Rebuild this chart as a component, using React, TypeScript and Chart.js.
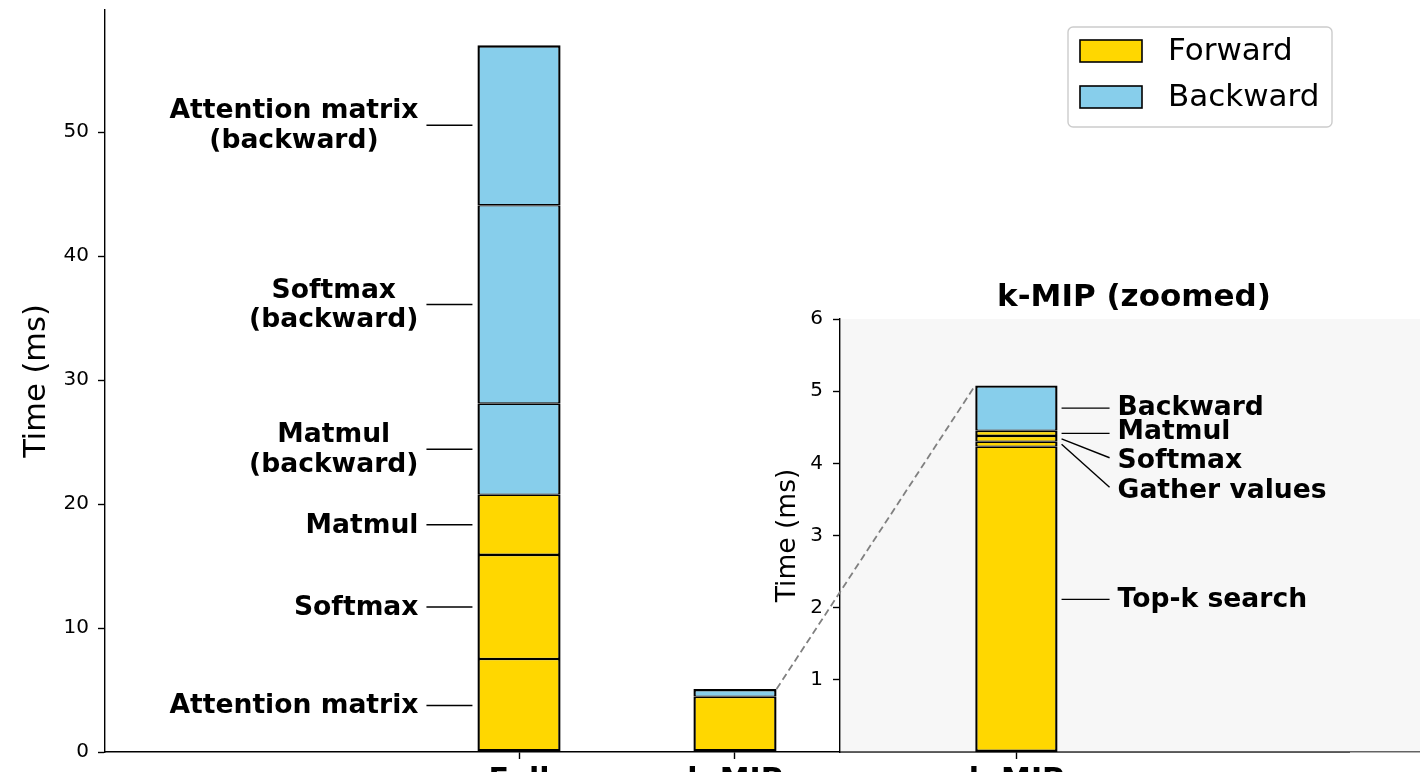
import React, { useEffect, useRef } from 'react';
import { Chart, registerables } from 'chart.js';

Chart.register(...registerables);

// ---------------- data ----------------
const CATEGORIES = ['Full', 'k-MIP'];
const PHASES = ['Forward', 'Backward'];

const FULL_LABELS = [
  'Attention matrix',
  'Softmax',
  'Matmul',
  'Matmul\n(backward)',
  'Softmax\n(backward)',
  'Attention matrix\n(backward)',
];
const FULL_VALUES = [7.5, 8.4, 4.85, 7.35, 16.0, 12.9];
const FULL_PHASES = ['Forward', 'Forward', 'Forward', 'Backward', 'Backward', 'Backward'];

const KMIP_LABELS = ['Top-k search', 'Gather values', 'Softmax', 'Matmul', 'Backward'];
const KMIP_VALUES = [4.23, 0.07, 0.08, 0.07, 0.63];
const KMIP_PHASES = ['Forward', 'Forward', 'Forward', 'Forward', 'Backward'];
// y (ms) where each inset annotation text sits
const KMIP_LABEL_Y = [2.12, 3.64, 4.05, 4.45, 4.78];

const MAIN_Y_TICKS = [0, 10, 20, 30, 40, 50];
const INSET_Y_TICKS = [1, 2, 3, 4, 5, 6];
const INSET_CATEGORIES = ['k-MIP'];
const INSET_TITLE = 'k-MIP (zoomed)';
const Y_LABEL = 'Time (ms)';

// ---------------- style / layout ----------------
const PHASE_COLORS: Record<string, string> = { Forward: '#FFD700', Backward: '#87CEEB' };
const FONT = '"DejaVu Sans", sans-serif';
const W = 1420;
const H = 772;
const MAIN_X_MIN = -1.917;
const MAIN_X_MAX = 3.843;
const MAIN_Y_MAX = 59.85;
const BAR_WIDTH = 0.385;
const INSET_LEFT = 740;
const INSET_TOP = 270;
const INSET_W = 688;
const INSET_H = 502;
const INSET_X_MIN = -0.6;
const INSET_X_MAX = 1.4;
const INSET_BAR_WIDTH = 0.28;
const INSET_Y_MAX = 6;
const LABEL_FONT = `bold 26.6px ${FONT}`;

const sum = (a: number[]) => a.reduce((s, v) => s + v, 0);
const edge = (i: number, n: number) => ({
  left: 2.4,
  right: 2.4,
  top: i === n - 1 ? 2.4 : 1.3,
  bottom: i === 0 ? 2.4 : 1.3,
});

const axisCommon = {
  offset: false,
  grid: {
    display: true,
    offset: false,
    drawOnChartArea: false,
    drawTicks: true,
    tickLength: 7,
    tickColor: '#000',
    tickWidth: 1.4,
  },
  border: { display: true, color: '#000', width: 1.4 },
};

function drawBlock(ctx: CanvasRenderingContext2D, text: string, right: number, y: number, lh: number) {
  const lines = text.split('\n');
  const bw = Math.max(...lines.map((l) => ctx.measureText(l).width));
  const cx = right - bw / 2;
  const y0 = y - ((lines.length - 1) * lh) / 2;
  ctx.textAlign = 'center';
  lines.forEach((l, k) => ctx.fillText(l, cx, y0 + k * lh));
}

function mainConfig(): any {
  const kmipTotals = PHASES.map((p) => sum(KMIP_VALUES.filter((_, j) => KMIP_PHASES[j] === p)));
  const datasets = [
    ...FULL_VALUES.map((v, i) => ({
      label: FULL_LABELS[i],
      data: [{ x: 0, y: v }],
      backgroundColor: PHASE_COLORS[FULL_PHASES[i]],
      borderColor: '#000',
      borderWidth: edge(i, FULL_VALUES.length),
      borderSkipped: false,
      stack: 's',
      barPercentage: BAR_WIDTH,
      categoryPercentage: 1,
    })),
    ...PHASES.map((p, i) => ({
      label: 'k-MIP ' + p,
      data: [{ x: 1, y: kmipTotals[i] }],
      backgroundColor: PHASE_COLORS[p],
      borderColor: '#000',
      borderWidth: edge(i, PHASES.length),
      borderSkipped: false,
      stack: 's',
      barPercentage: BAR_WIDTH,
      categoryPercentage: 1,
    })),
  ];

  const decor = {
    id: 'mainDecor',
    afterDraw(chart: any) {
      const ctx = chart.ctx as CanvasRenderingContext2D;
      const xs = chart.scales.x;
      const ys = chart.scales.y;
      const ca = chart.chartArea;
      ctx.save();
      // y label
      ctx.fillStyle = '#000';
      ctx.font = `30.5px ${FONT}`;
      ctx.textAlign = 'center';
      ctx.textBaseline = 'middle';
      ctx.translate(37, (ca.top + ca.bottom) / 2);
      ctx.rotate(-Math.PI / 2);
      ctx.fillText(Y_LABEL, 0, 0);
      ctx.restore();

      // annotations for Full bar
      ctx.save();
      const barLeft = xs.getPixelForValue(0 - BAR_WIDTH / 2);
      let cum = 0;
      ctx.font = LABEL_FONT;
      ctx.textBaseline = 'middle';
      ctx.fillStyle = '#000';
      ctx.strokeStyle = '#000';
      ctx.lineWidth = 1.4;
      FULL_VALUES.forEach((v, i) => {
        const y = ys.getPixelForValue(cum + v / 2);
        cum += v;
        ctx.beginPath();
        ctx.moveTo(barLeft - 51, y);
        ctx.lineTo(barLeft - 5, y);
        ctx.stroke();
        drawBlock(ctx, FULL_LABELS[i], barLeft - 59, y + 1, 29.5);
      });
      ctx.restore();

      // legend
      ctx.save();
      const bx = ca.right - 281;
      const by = ca.top + 17;
      const bw = 264;
      const bh = 100;
      const r = 5;
      ctx.beginPath();
      ctx.moveTo(bx + r, by);
      ctx.lineTo(bx + bw - r, by);
      ctx.arcTo(bx + bw, by, bx + bw, by + r, r);
      ctx.lineTo(bx + bw, by + bh - r);
      ctx.arcTo(bx + bw, by + bh, bx + bw - r, by + bh, r);
      ctx.lineTo(bx + r, by + bh);
      ctx.arcTo(bx, by + bh, bx, by + bh - r, r);
      ctx.lineTo(bx, by + r);
      ctx.arcTo(bx, by, bx + r, by, r);
      ctx.closePath();
      ctx.fillStyle = 'rgba(255,255,255,0.8)';
      ctx.fill();
      ctx.strokeStyle = '#cccccc';
      ctx.lineWidth = 1.4;
      ctx.stroke();
      ctx.font = `31px ${FONT}`;
      ctx.textAlign = 'left';
      ctx.textBaseline = 'middle';
      PHASES.forEach((p, i) => {
        const cy = by + 24 + i * 46;
        ctx.fillStyle = PHASE_COLORS[p];
        ctx.fillRect(bx + 12, cy - 11, 62, 22);
        ctx.strokeStyle = '#000';
        ctx.lineWidth = 1.6;
        ctx.strokeRect(bx + 12, cy - 11, 62, 22);
        ctx.fillStyle = '#000';
        ctx.fillText(p, bx + 100, cy + 1);
      });
      ctx.restore();
    },
  };

  return {
    type: 'bar',
    data: { datasets },
    options: {
      responsive: false,
      animation: false,
      events: [],
      layout: { padding: { top: 10, right: 71, bottom: 0, left: 0 } },
      plugins: { legend: { display: false }, tooltip: { enabled: false }, title: { display: false } },
      scales: {
        x: {
          ...axisCommon,
          type: 'linear',
          stacked: true,
          min: MAIN_X_MIN,
          max: MAIN_X_MAX,
          afterBuildTicks: (s: any) => {
            s.ticks = CATEGORIES.map((_, i) => ({ value: i }));
          },
          afterFit: (s: any) => {
            s.height = 20;
            s.paddingLeft = 0;
            s.paddingRight = 0;
          },
          ticks: {
            autoSkip: false,
            maxRotation: 0,
            padding: 4,
            color: '#000',
            font: { family: FONT, size: 30, weight: 'bold' },
            callback: (v: number) => CATEGORIES[v] ?? '',
          },
        },
        y: {
          ...axisCommon,
          type: 'linear',
          stacked: true,
          min: 0,
          max: MAIN_Y_MAX,
          afterBuildTicks: (s: any) => {
            s.ticks = MAIN_Y_TICKS.map((v) => ({ value: v }));
          },
          afterFit: (s: any) => {
            s.width = 105;
            s.paddingTop = 0;
            s.paddingBottom = 0;
          },
          ticks: { padding: 9, color: '#000', font: { family: FONT, size: 20 } },
        },
      },
    },
    plugins: [decor],
  };
}

function insetConfig(mainChart: any): any {
  const total = sum(KMIP_VALUES);
  const datasets = KMIP_VALUES.map((v, i) => ({
    label: KMIP_LABELS[i],
    data: [{ x: 0, y: v }],
    backgroundColor: PHASE_COLORS[KMIP_PHASES[i]],
    borderColor: '#000',
    borderWidth: edge(i, KMIP_VALUES.length),
    borderSkipped: false,
    stack: 's',
    barPercentage: INSET_BAR_WIDTH / (INSET_X_MAX - INSET_X_MIN),
    categoryPercentage: 1,
  }));

  const decor = {
    id: 'insetDecor',
    beforeDraw(chart: any) {
      const ca = chart.chartArea;
      const ctx = chart.ctx as CanvasRenderingContext2D;
      ctx.save();
      ctx.fillStyle = '#f7f7f7';
      ctx.fillRect(ca.left, ca.top, chart.width - ca.left, ca.bottom - ca.top);
      ctx.restore();
    },
    afterDraw(chart: any) {
      const ctx = chart.ctx as CanvasRenderingContext2D;
      const ca = chart.chartArea;
      const xs = chart.scales.x;
      const ys = chart.scales.y;
      ctx.save();
      ctx.fillStyle = '#000';
      // title
      ctx.font = `bold 31px ${FONT}`;
      ctx.textAlign = 'center';
      ctx.textBaseline = 'alphabetic';
      ctx.fillText(INSET_TITLE, (ca.left + ca.right) / 2, ca.top - 13);
      // y label
      ctx.save();
      ctx.font = `26.5px ${FONT}`;
      ctx.textBaseline = 'middle';
      ctx.translate(ca.left - 52, (ca.top + ca.bottom) / 2);
      ctx.rotate(-Math.PI / 2);
      ctx.fillText(Y_LABEL, 0, 0);
      ctx.restore();

      // annotations
      const barRight = xs.getPixelForValue(0 + INSET_BAR_WIDTH / 2);
      ctx.font = LABEL_FONT;
      ctx.textAlign = 'left';
      ctx.textBaseline = 'middle';
      ctx.strokeStyle = '#000';
      ctx.lineWidth = 1.4;
      let cum = 0;
      KMIP_VALUES.forEach((v, i) => {
        const y0 = ys.getPixelForValue(cum + v / 2);
        cum += v;
        const y1 = ys.getPixelForValue(KMIP_LABEL_Y[i]);
        ctx.beginPath();
        ctx.moveTo(barRight + 4, y0);
        ctx.lineTo(barRight + 52, Math.abs(y1 - y0) < 3 ? y0 : y1 - 2);
        ctx.stroke();
        ctx.fillText(KMIP_LABELS[i], barRight + 60, y1 + 1.5);
      });

      // connector from main k-MIP bar to inset bar
      const mx = mainChart.scales.x.getPixelForValue(1 + BAR_WIDTH / 2) - INSET_LEFT;
      const my = mainChart.scales.y.getPixelForValue(total) - INSET_TOP;
      const ix = xs.getPixelForValue(0 - INSET_BAR_WIDTH / 2);
      const iy = ys.getPixelForValue(total);
      ctx.strokeStyle = '#808080';
      ctx.lineWidth = 1.8;
      ctx.setLineDash([7, 4]);
      ctx.beginPath();
      ctx.moveTo(mx, my);
      ctx.lineTo(ix, iy);
      ctx.stroke();
      ctx.restore();
    },
  };

  return {
    type: 'bar',
    data: { datasets },
    options: {
      responsive: false,
      animation: false,
      events: [],
      layout: { padding: { top: 49, right: 0, bottom: 0, left: 0 } },
      plugins: { legend: { display: false }, tooltip: { enabled: false }, title: { display: false } },
      scales: {
        x: {
          ...axisCommon,
          border: { display: true, color: 'rgba(0,0,0,0.6)', width: 1.4 },
          type: 'linear',
          stacked: true,
          min: INSET_X_MIN,
          max: INSET_X_MAX,
          afterBuildTicks: (s: any) => {
            s.ticks = INSET_CATEGORIES.map((_, i) => ({ value: i }));
          },
          afterFit: (s: any) => {
            s.height = 20;
            s.paddingLeft = 0;
            s.paddingRight = 0;
          },
          ticks: {
            autoSkip: false,
            maxRotation: 0,
            padding: 4,
            color: '#000',
            font: { family: FONT, size: 30, weight: 'bold' },
            callback: (v: number) => INSET_CATEGORIES[v] ?? '',
          },
        },
        y: {
          ...axisCommon,
          type: 'linear',
          stacked: true,
          min: 0,
          max: INSET_Y_MAX,
          afterBuildTicks: (s: any) => {
            s.ticks = INSET_Y_TICKS.map((v) => ({ value: v }));
          },
          afterFit: (s: any) => {
            s.width = 100;
            s.paddingTop = 0;
            s.paddingBottom = 0;
          },
          ticks: { padding: 10, color: '#000', font: { family: FONT, size: 20 } },
        },
      },
    },
    plugins: [decor],
  };
}

export default function App() {
  const mainRef = useRef<HTMLCanvasElement>(null);
  const insetRef = useRef<HTMLCanvasElement>(null);

  useEffect(() => {
    Chart.defaults.font.family = FONT;
    const main = new Chart(mainRef.current as HTMLCanvasElement, mainConfig());
    const inset = new Chart(insetRef.current as HTMLCanvasElement, insetConfig(main));
    return () => {
      inset.destroy();
      main.destroy();
    };
  }, []);

  return (
    <div
      style={{
        position: 'fixed',
        left: 0,
        top: 0,
        width: W,
        height: H,
        overflow: 'hidden',
        background: '#fff',
      }}
    >
      <canvas
        ref={mainRef}
        width={W}
        height={H}
        style={{ position: 'absolute', left: 0, top: 0, width: W, height: H }}
      />
      <canvas
        ref={insetRef}
        width={INSET_W}
        height={INSET_H}
        style={{ position: 'absolute', left: INSET_LEFT, top: INSET_TOP, width: INSET_W, height: INSET_H }}
      />
    </div>
  );
}
